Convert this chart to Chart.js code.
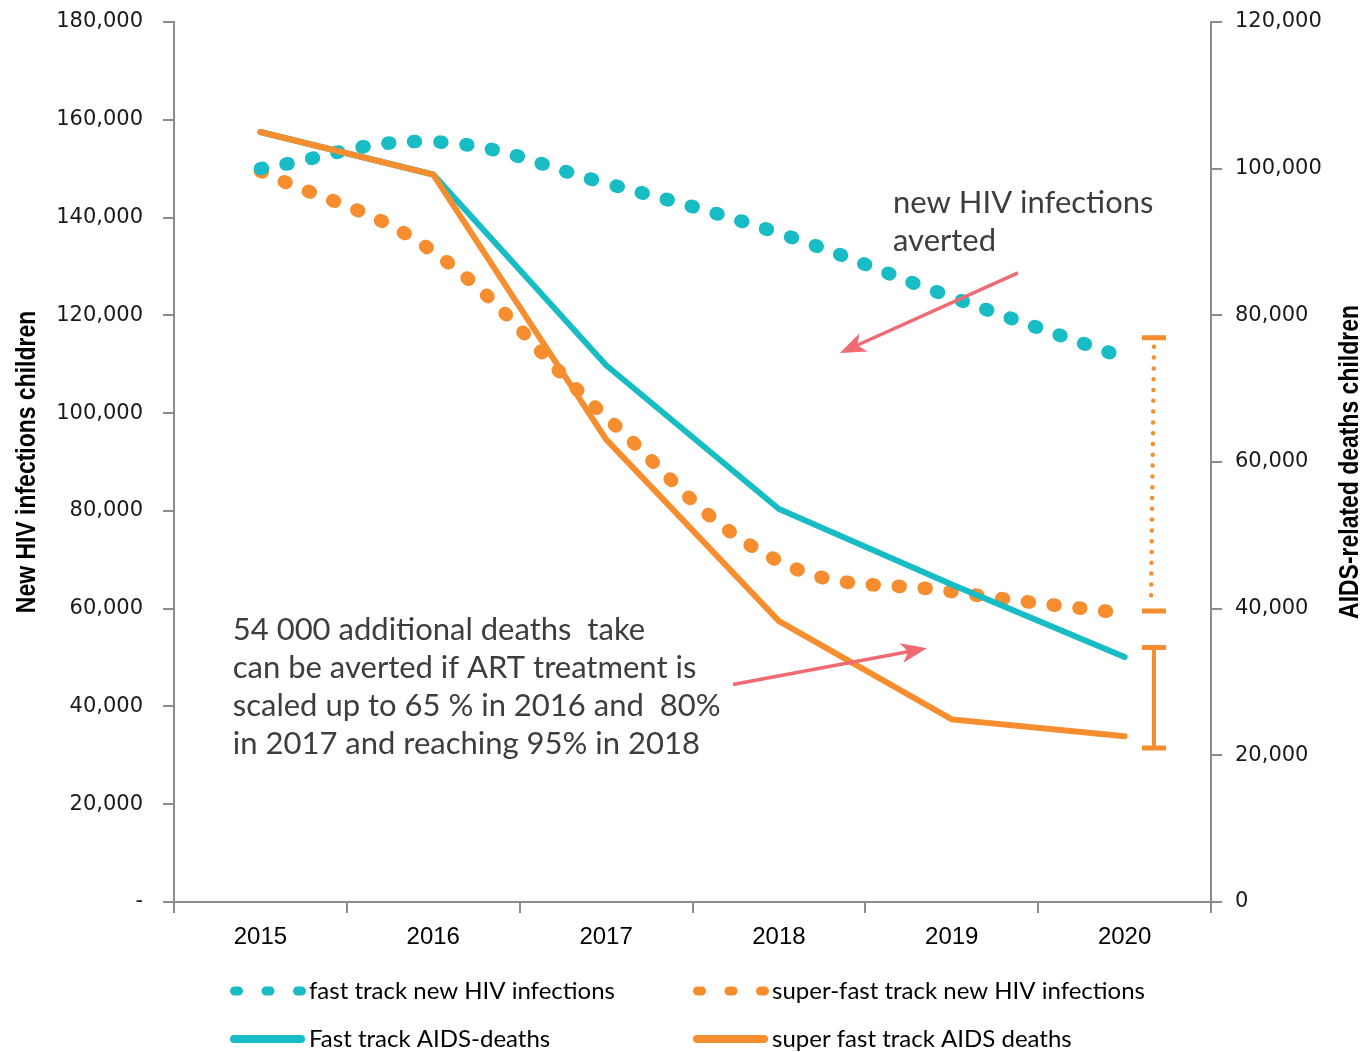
<!DOCTYPE html>
<html>
<head>
<meta charset="utf-8">
<script src="https://cdn.jsdelivr.net/npm/chart.js@4.4.1/dist/chart.umd.min.js"></script>
<style>
  html, body { margin: 0; padding: 0; background: #fff; }
  #wrap { width: 1364px; height: 1052px; }
</style>
</head>
<body>
<div id="wrap"><canvas id="chart" width="1364" height="1052"></canvas></div>
<script>
// values
const years = ['2015', '2016', '2017', '2018', '2019', '2020'];
const fastNewInfections = [150000, 155500, 147000, 136800, 123700, 111300];
const superNewInfections = [149500, 133000, 99200, 69700, 63500, 59000];
const fastDeaths = [105000, 99200, 73200, 53600, 43300, 33400];
const superDeaths = [105000, 99200, 63100, 38300, 24900, 22600];

const seriesLabels = [
  'fast track new HIV infections',
  'super-fast track new HIV infections',
  'Fast track AIDS-deaths',
  'super fast track AIDS deaths'
];
const leftAxisTitle = 'New HIV infections children';
const rightAxisTitle = 'AIDS-related deaths children';

// gap bars at the end of 2020 (x as category index)
const gapBars = [
  { x: 5.17, from: 115400, to: 59500, axis: 'y', dotted: true },
  { x: 5.17, from: 34700, to: 21000, axis: 'y1', dotted: false }
];

// notes and arrows (x as category index, y on the left axis)
const notes = [
  { x: 3.66, y: 142900, lines: ['new HIV infections', 'averted'] },
  { x: -0.16, y: 55600, lines: ['54 000 additional deaths  take', 'can be averted if ART treatment is', 'scaled up to 65 % in 2016 and  80%', 'in 2017 and reaching 95% in 2018'] }
];
const arrows = [
  { x0: 4.383, y0: 128700, x1: 3.353, y1: 112300 },
  { x0: 2.734, y0: 44500, x1: 3.857, y1: 51900 }
];

const TEAL = '#17bcc4';
const ORANGE = '#f68d2e';
const AXIS = '#8c8c8c';
const ARROW = '#f06a74';

const fmt = v => v.toLocaleString('en-US');

const extras = {
  id: 'extras',
  afterDatasetsDraw(chart) {
    const ctx = chart.ctx;
    const xs = chart.scales.x;

    // gap bars
    gapBars.forEach(b => {
      const ys = chart.scales[b.axis];
      const px = xs.getPixelForValue(b.x);
      const pTop = ys.getPixelForValue(b.from);
      const pBot = ys.getPixelForValue(b.to);
      ctx.save();
      ctx.strokeStyle = ORANGE;
      if (b.dotted) {
        ctx.lineWidth = 4.5;
        ctx.lineCap = 'round';
        ctx.setLineDash([0, 10.8]);
        ctx.beginPath();
        ctx.moveTo(px, pTop + 9);
        ctx.lineTo(px - 3, pBot - 8);
        ctx.stroke();
      } else {
        ctx.lineWidth = 4;
        ctx.beginPath();
        ctx.moveTo(px, pTop);
        ctx.lineTo(px, pBot);
        ctx.stroke();
      }
      ctx.setLineDash([]);
      ctx.lineCap = 'butt';
      ctx.lineWidth = 5;
      ctx.beginPath();
      ctx.moveTo(px - 12, pTop); ctx.lineTo(px + 12, pTop);
      ctx.moveTo(px - 12, pBot); ctx.lineTo(px + 12, pBot);
      ctx.stroke();
      ctx.restore();
    });

    // arrows
    const ly = chart.scales.y;
    arrows.forEach(a => {
      const x0 = xs.getPixelForValue(a.x0), y0 = ly.getPixelForValue(a.y0);
      const x1 = xs.getPixelForValue(a.x1), y1 = ly.getPixelForValue(a.y1);
      const ang = Math.atan2(y1 - y0, x1 - x0);
      ctx.save();
      ctx.strokeStyle = ARROW;
      ctx.fillStyle = ARROW;
      ctx.lineWidth = 3.5;
      ctx.beginPath();
      ctx.moveTo(x0, y0);
      ctx.lineTo(x1 - 14 * Math.cos(ang), y1 - 14 * Math.sin(ang));
      ctx.stroke();
      ctx.translate(x1, y1);
      ctx.rotate(ang);
      ctx.beginPath();
      ctx.moveTo(0, 0);
      ctx.lineTo(-26, -10);
      ctx.lineTo(-19, 0);
      ctx.lineTo(-26, 10);
      ctx.closePath();
      ctx.fill();
      ctx.restore();
    });

    // notes
    notes.forEach(n => {
      const x = xs.getPixelForValue(n.x), y = ly.getPixelForValue(n.y);
      ctx.save();
      ctx.fillStyle = '#3d3d3d';
      ctx.font = '31px Lato';
      ctx.textAlign = 'left';
      ctx.textBaseline = 'middle';
      n.lines.forEach((t, i) => ctx.fillText(t, x, y + i * 38));
      ctx.restore();
    });
  },
  afterDraw(chart) {
    const ctx = chart.ctx;
    const area = chart.chartArea;
    const midY = (area.top + area.bottom) / 2;

    // axis titles, both reading bottom to top, condensed
    ctx.save();
    ctx.fillStyle = '#000';
    ctx.font = 'bold 28px "Liberation Sans"';
    ctx.textAlign = 'center';
    ctx.textBaseline = 'middle';
    [[27, leftAxisTitle], [1350, rightAxisTitle]].forEach(([x, t]) => {
      ctx.save();
      ctx.translate(x, midY);
      ctx.rotate(-Math.PI / 2);
      ctx.scale(0.82, 1);
      ctx.fillText(t, 0, 0);
      ctx.restore();
    });
    ctx.restore();

    // legend, two columns
    const cols = [230, 693];
    const rows = [991, 1039];
    chart.data.datasets.forEach((ds, i) => {
      const x = cols[i % 2], y = rows[Math.floor(i / 2)];
      ctx.save();
      ctx.strokeStyle = ds.borderColor;
      ctx.lineCap = 'round';
      ctx.beginPath();
      if (ds.borderDash.length) {
        ctx.lineWidth = 9;
        ctx.setLineDash([4, 27.5]);
        ctx.moveTo(x + 4.5, y);
        ctx.lineTo(x + 72, y);
      } else {
        ctx.lineWidth = 8;
        ctx.moveTo(x + 4, y);
        ctx.lineTo(x + 71, y);
      }
      ctx.stroke();
      ctx.fillStyle = '#000';
      ctx.font = '24px Lato';
      ctx.textAlign = 'left';
      ctx.textBaseline = 'middle';
      ctx.fillText(ds.label, x + 79, y);
      ctx.restore();
    });
  }
};

const fitY = w => s => { s.width = w; s.paddingTop = 0; s.paddingBottom = 0; };

new Chart(document.getElementById('chart'), {
  type: 'line',
  data: {
    labels: years,
    datasets: [
      {
        label: seriesLabels[0], data: fastNewInfections, yAxisID: 'y', order: 2,
        borderColor: TEAL, borderWidth: 13.5, borderDash: [2, 24], borderCapStyle: 'round',
        tension: 0.4, pointRadius: 0
      },
      {
        label: seriesLabels[1], data: superNewInfections, yAxisID: 'y', order: 3,
        borderColor: ORANGE, borderWidth: 13.5, borderDash: [2, 24], borderCapStyle: 'round',
        tension: 0.4, pointRadius: 0
      },
      {
        label: seriesLabels[2], data: fastDeaths, yAxisID: 'y1', order: 1,
        borderColor: TEAL, borderWidth: 6, borderDash: [], borderCapStyle: 'round',
        tension: 0, pointRadius: 0
      },
      {
        label: seriesLabels[3], data: superDeaths, yAxisID: 'y1', order: 0,
        borderColor: ORANGE, borderWidth: 6, borderDash: [], borderCapStyle: 'round',
        tension: 0, pointRadius: 0
      }
    ]
  },
  options: {
    responsive: false,
    devicePixelRatio: 1,
    animation: false,
    layout: { padding: { top: 22, bottom: 90, left: 0, right: 0 } },
    plugins: {
      legend: { display: false },
      tooltip: { enabled: false }
    },
    scales: {
      x: {
        offset: true,
        grid: { display: true, drawOnChartArea: false, offset: true, tickLength: 11, color: AXIS, lineWidth: 2 },
        border: { color: AXIS, width: 2 },
        ticks: { color: '#000', padding: 10, font: { family: '"Liberation Sans"', size: 24 } },
        afterFit: s => { s.height = 60; s.paddingLeft = 0; s.paddingRight = 0; }
      },
      y: {
        position: 'left',
        min: 0, max: 180000,
        grid: { drawOnChartArea: false, tickLength: 11, color: AXIS, lineWidth: 2 },
        border: { color: AXIS, width: 2 },
        ticks: {
          stepSize: 20000, padding: 20, color: '#1a1a1a',
          font: { family: '"DejaVu Sans"', size: 21 },
          callback: v => v === 0 ? '-' : fmt(v)
        },
        afterFit: fitY(174)
      },
      y1: {
        position: 'right',
        min: 0, max: 120000,
        grid: { drawOnChartArea: false, tickLength: 11, color: AXIS, lineWidth: 2 },
        border: { color: AXIS, width: 2 },
        ticks: {
          stepSize: 20000, padding: 13, color: '#1a1a1a',
          font: { family: '"DejaVu Sans"', size: 21 },
          callback: v => fmt(v)
        },
        afterFit: fitY(153)
      }
    }
  },
  plugins: [extras]
});
</script>
</body>
</html>
